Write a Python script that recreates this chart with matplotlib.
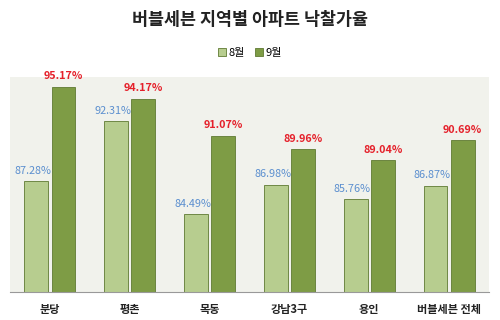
import numpy as np
import matplotlib
matplotlib.use("Agg")
import matplotlib.pyplot as plt
from matplotlib.patches import Patch

plt.rcParams['font.family'] = ['Noto Sans CJK KR', 'DejaVu Sans']

regions = ["분당", "평촌", "목동", "강남3구", "용인", "버블세븐 전체"]
aug = [87.28, 92.31, 84.49, 86.98, 85.76, 86.87]
sep = [95.17, 94.17, 91.07, 89.96, 89.04, 90.69]
series_names = ["8월", "9월"]

LIGHT = "#b7cd8f"
DARK = "#7e9c45"
EDGE = "#5f7a32"

fig = plt.figure(figsize=(5, 3.2), dpi=100)
ax = fig.add_axes([0.02, 0.088, 0.958, 0.672])
ax.set_facecolor("#f1f2ec")

x = np.arange(len(regions))
w = 0.3
gap = 0.02
b1 = ax.bar(x - w / 2 - gap, aug, w, color=LIGHT, edgecolor=EDGE, linewidth=0.6)
b2 = ax.bar(x + w / 2 + gap, sep, w, color=DARK, edgecolor=EDGE, linewidth=0.6)

# data labels
for xi, v in zip(x, aug):
    ax.text(xi - w / 2 - gap - 0.04, v + 0.45, f"{v:.2f}%", ha="center", va="bottom",
            color="#5b8fcf", fontsize=7.8)
for xi, v in zip(x, sep):
    ax.text(xi + w / 2 + gap, v + 0.45, f"{v:.2f}%", ha="center", va="bottom",
            color="#e5202a", fontsize=7.8, fontweight="bold")

ax.set_ylim(78, 96)
ax.set_xlim(-0.5, len(regions) - 0.5)
ax.set_yticks([])
ax.set_xticks(x)
ax.set_xticklabels(regions, fontsize=8, fontweight="bold", color="#222222")
ax.tick_params(axis="x", length=0, pad=8)
for s in ["top", "left", "right"]:
    ax.spines[s].set_visible(False)
ax.spines["bottom"].set_color("#999999")

fig.suptitle("버블세븐 지역별 아파트 낙찰가율", y=0.965, fontsize=12.5, fontweight="bold", color="#222222")

handles = [Patch(facecolor=LIGHT, edgecolor=EDGE, linewidth=0.6),
           Patch(facecolor=DARK, edgecolor=EDGE, linewidth=0.6)]
fig.legend(handles, series_names, loc="center", bbox_to_anchor=(0.5, 0.835), ncol=2,
           frameon=False, fontsize=8, handlelength=0.7, handleheight=0.7,
           handletextpad=0.2, columnspacing=1.0)

fig.savefig("out.png", dpi=100, facecolor="white")
